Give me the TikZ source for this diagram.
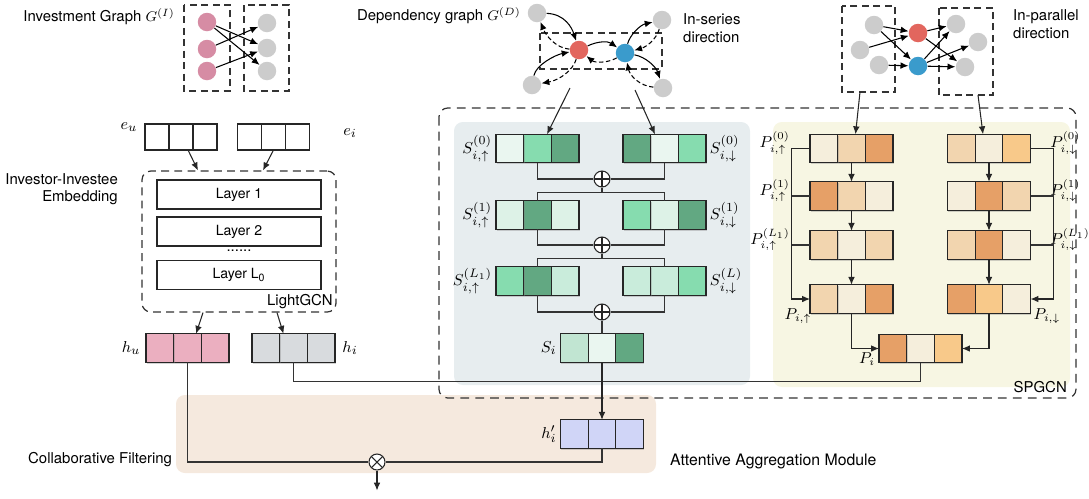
\documentclass[tikz,border=0pt]{standalone}
\usepackage[no-math]{fontspec}
\setmainfont{TeX Gyre Heros}
\usepackage{amsmath}
\usetikzlibrary{positioning, arrows.meta, shadows}

\definecolor{nodegray}{HTML}{CCCCCC}
\definecolor{nodepink}{HTML}{D68CA4}
\definecolor{nodered}{HTML}{E2665E}
\definecolor{nodeblue}{HTML}{3A9BCC}
\definecolor{panelS}{HTML}{E7EDEF}
\definecolor{panelP}{HTML}{F7F6E3}
\definecolor{panelA}{HTML}{F5E9DE}
\definecolor{gA}{HTML}{EAF6F0}
\definecolor{gB}{HTML}{DDF2E7}
\definecolor{gC}{HTML}{C9ECDB}
\definecolor{gD}{HTML}{86DCAF}
\definecolor{gE}{HTML}{62A882}
\definecolor{gF}{HTML}{C1E5D2}
\definecolor{oA}{HTML}{F5EEDC}
\definecolor{oB}{HTML}{F2D5AF}
\definecolor{oC}{HTML}{E6A067}
\definecolor{oD}{HTML}{F8C98A}
\definecolor{vpink}{HTML}{EBAFC0}
\definecolor{vgray}{HTML}{D8DBDE}
\definecolor{vlav}{HTML}{D0D5F7}

% three-cell vector: [cell style]{name}{centre}{left}{middle}{right}
\newcommand{\vect}[6][vcell]{%
  \node[#1, fill=#5] (#2) at (#3) {};
  \node[#1, fill=#4, left=0pt of #2] (#2-l) {};
  \node[#1, fill=#6, right=0pt of #2] (#2-r) {};
}

\tikzset{
  vcell/.style    = {draw=black!85, line width=0.7pt, minimum width=0.554cm, minimum height=0.57cm,
                     inner sep=0pt, outer sep=0pt,
                     drop shadow={shadow xshift=0.5pt, shadow yshift=-0.8pt, opacity=0.35}},
  ecell/.style    = {vcell, minimum width=0.48cm, minimum height=0.52cm},
  lbl/.style      = {font=\fontsize{8.5}{10}\selectfont},
  mlbl/.style     = {font=\fontsize{9.5}{11}\selectfont, inner sep=1pt},
  plbl/.style     = {font=\fontsize{9}{11}\selectfont, inner sep=0.5pt},
  gnode/.style    = {circle, fill=nodegray, minimum size=0.37cm, inner sep=0pt},
  gbox/.style     = {draw=black!80, line width=0.7pt, dash pattern=on 4pt off 2.5pt},
  garr/.style     = {-{Latex[length=4.5pt,width=3.8pt]}, line width=0.6pt},
  garrd/.style    = {garr, dash pattern=on 2.5pt off 1.5pt},
  arr/.style      = {-{Latex[length=4.5pt,width=3.8pt]}, line width=0.6pt, draw=black!85},
  conn/.style     = {line width=0.6pt, draw=black!80},
  layerbox/.style = {draw=black!85, line width=0.7pt, fill=white, minimum width=3.28cm,
                     minimum height=0.58cm, inner sep=0pt, font=\fontsize{8}{10}\selectfont},
  gcnbox/.style   = {draw=black!80, line width=0.7pt, dash pattern=on 4.5pt off 3pt,
                     rounded corners=5pt, minimum width=3.88cm, minimum height=2.82cm},
  oplus/.style    = {circle, draw=black!85, fill=white, line width=0.6pt, minimum size=0.32cm, inner sep=0pt,
                     path picture={\draw[line width=0.6pt] (path picture bounding box.north) -- (path picture bounding box.south)
                       (path picture bounding box.west) -- (path picture bounding box.east);}},
  otimes/.style   = {circle, draw=black!85, fill=white, line width=0.6pt, minimum size=0.32cm, inner sep=0pt,
                     path picture={\draw[line width=0.6pt] (path picture bounding box.north west) -- (path picture bounding box.south east)
                       (path picture bounding box.south west) -- (path picture bounding box.north east);}}
}

\begin{document}
\begin{tikzpicture}[x=0.02cm, y=-0.02cm]
\useasboundingbox (0,0) rectangle (1089,498);

% panels
\fill[panelS, rounded corners=5pt] (454,122) rectangle (750,385);
\fill[panelP, rounded corners=5pt] (773,122) rectangle (1070,387);
\fill[panelA, rounded corners=5pt] (176,395) rectangle (656,473);
\draw[draw=black!80, line width=0.7pt, dash pattern=on 5pt off 3.5pt, rounded corners=5pt] (439,108) rectangle (1076,398);
\node[lbl, anchor=east] (spgcn) at (1073,387) {SPGCN};

% investment graph
\node[lbl, anchor=east] (iglbl) at (181,17) {Investment Graph $G^{(I)}$};
\draw[gbox] (184,5) rectangle (230,91);
\draw[gbox] (244,5) rectangle (289,91);
\node[gnode, fill=nodepink] (ip1) at (207,22) {};
\node[gnode, fill=nodepink] (ip2) at (207,49) {};
\node[gnode, fill=nodepink] (ip3) at (207,71) {};
\node[gnode] (iq1) at (267,23) {};
\node[gnode] (iq2) at (267,48) {};
\node[gnode] (iq3) at (267,71) {};
\draw[garr] (ip1) -- (iq2);
\draw[garr] (ip1) -- (iq3);
\draw[garr] (ip2) -- (iq1);
\draw[garr] (ip3) -- (iq2);

% dependency graph
\node[lbl, anchor=east] (dglbl) at (527,16) {Dependency graph $G^{(D)}$};
\node[lbl, align=left, anchor=west] (series) at (677,28) {In-series\\direction};
\draw[gbox] (540,33) rectangle (662,69);
\node[gnode] (dtl) at (537,13) {};
\node[gnode] (dtr) at (662,20) {};
\node[gnode] (dbl) at (532,85) {};
\node[gnode] (dbr) at (663,88) {};
\node[gnode, fill=nodered] (dr) at (579,50) {};
\node[gnode, fill=nodeblue] (db) at (625,53) {};
\draw[garr] (dtl) .. controls (565,14) and (572,28) .. (dr);
\draw[garrd] (dr) .. controls (556,48) and (546,36) .. (dtl);
\draw[garr] (dbl) .. controls (536,65) and (555,55) .. (dr);
\draw[garrd] (dr) .. controls (573,70) and (560,80) .. (dbl);
\draw[garr] (dr) .. controls (598,41) and (608,41) .. (db);
\draw[garrd] (db) .. controls (608,63) and (595,63) .. (dr);
\draw[garr] (db) .. controls (630,35) and (640,25) .. (dtr);
\draw[garrd] (dtr) .. controls (656,40) and (646,47) .. (db);
\draw[garr] (db) .. controls (646,57) and (656,67) .. (dbr);
\draw[garrd] (dbr) .. controls (640,86) and (630,76) .. (db);

% in-parallel graph
\node[lbl, align=left, anchor=west] (parallel) at (1007,24) {In-parallel\\direction};
\draw[gbox] (842,6) rectangle (895,92);
\draw[gbox] (939,8) rectangle (993,95);
\node[gnode] (pa1) at (874,25) {};
\node[gnode] (pa2) at (860,50) {};
\node[gnode] (pa3) at (879,65) {};
\node[gnode, fill=nodered] (pr) at (918,33) {};
\node[gnode, fill=nodeblue] (pb) at (918,66) {};
\node[gnode] (pc1) at (956,24) {};
\node[gnode] (pc2) at (978,42) {};
\node[gnode] (pc3) at (965,67) {};
\foreach \a/\b in {pa1/pr, pa1/pb, pa2/pr, pa3/pb, pr/pc1, pr/pc3, pb/pc1, pb/pc2, pb/pc3}
  \draw[garr] (\a) -- (\b);

% investor-investee embedding
\node[lbl, align=right, anchor=east] (embed) at (124,189) {Investor-Investee\\Embedding};
\vect[ecell]{eu}{181,137}{white}{white}{white}
\vect[ecell]{ei}{273.5,137}{white}{white}{white}
\node[mlbl] (leu) at (129,127) {$e_u$};
\node[mlbl] (lei) at (350,133) {$e_i$};
\node[gcnbox] (gcn) at (239,241.5) {};
\node[layerbox] (lay1) at (239,194.5) {Layer 1};
\node[layerbox] (lay2) at (239,231.5) {Layer 2};
\node[lbl] (dots) at (239,251) {......};
\node[layerbox] (lay0) at (239,275) {Layer L\textsubscript{0}};
\node[lbl, anchor=south east, inner sep=2pt] (lgcn) at (gcn.south east) {LightGCN};
\draw[arr] ([xshift=0.14cm]eu.south) -- ([xshift=-0.82cm]gcn.north);
\draw[arr] (ei.south) -- ([xshift=0.48cm]gcn.north);

\vect{hu}{187.5,348}{vpink}{vpink}{vpink}
\vect{hi}{293.5,348}{vgray}{vgray}{vgray}
\node[mlbl, left=2pt of hu-l] (lhu) {$h_u$};
\node[mlbl, right=3pt of hi-r] (lhi) {$h_i$};
\draw[arr] ([xshift=-0.72cm]gcn.south) -- ([xshift=0.17cm]hu.north);
\draw[arr] ([xshift=0.76cm]gcn.south) -- ([xshift=-0.2cm]hi.north);

% in-series vectors
\vect{su0}{537.5,148.5}{gA}{gD}{gE}
\vect{sd0}{664.5,148.5}{gE}{gA}{gD}
\vect{su1}{537.5,215}{gB}{gE}{gB}
\vect{sd1}{664.5,215}{gD}{gB}{gE}
\vect{su2}{537.5,281}{gD}{gE}{gC}
\vect{sd2}{664.5,281}{gC}{gC}{gD}
\vect{si}{602,348}{gF}{gA}{gE}
\node[mlbl, left=1pt of su0-l] (lsu0) {$S^{(0)}_{i,\uparrow}$};
\node[mlbl, right=1pt of sd0-r] (lsd0) {$S^{(0)}_{i,\downarrow}$};
\node[mlbl, left=1pt of su1-l] (lsu1) {$S^{(1)}_{i,\uparrow}$};
\node[mlbl, right=1pt of sd1-r] (lsd1) {$S^{(1)}_{i,\downarrow}$};
\node[mlbl, left=1pt of su2-l] (lsu2) {$S^{(L_1)}_{i,\uparrow}$};
\node[mlbl, right=1pt of sd2-r] (lsd2) {$S^{(L)}_{i,\downarrow}$};
\node[mlbl, left=1pt of si-l] (lsi) {$S_i$};
\node[oplus] (pl1) at (602,179) {};
\node[oplus] (pl2) at (602,245) {};
\node[oplus] (pl3) at (602,312) {};
\coordinate (dgl) at (570,88);
\coordinate (dgr) at (635,90);
\draw[arr] (dgl) -- ([xshift=0.19cm]su0.north);
\draw[arr] (dgr) -- ([xshift=-0.19cm]sd0.north);
\draw[conn] (su0.south) |- (pl1.west);
\draw[conn] (sd0.south) |- (pl1.east);
\draw[conn] (pl1.south) -- ++(0,5) coordinate (j1);
\draw[conn] (su1.north) |- (j1) -| (sd1.north);
\draw[conn] (su1.south) |- (pl2.west);
\draw[conn] (sd1.south) |- (pl2.east);
\draw[conn] (pl2.south) -- ++(0,5) coordinate (j2);
\draw[conn] (su2.north) |- (j2) -| (sd2.north);
\draw[conn] (su2.south) |- (pl3.west);
\draw[conn] (sd2.south) |- (pl3.east);
\draw[conn] (pl3) -- (si);

% in-parallel vectors
\vect{pu0}{851.5,148.5}{oA}{oB}{oC}
\vect{pd0}{989,148.5}{oB}{oA}{oD}
\vect{pu1}{851.5,196}{oC}{oB}{oA}
\vect{pd1}{989,196}{oA}{oC}{oB}
\vect{pu2}{851.5,245}{oB}{oA}{oB}
\vect{pd2}{989,245}{oB}{oC}{oA}
\vect{pu3}{851.5,299}{oB}{oA}{oC}
\vect{pd3}{989,299}{oC}{oD}{oA}
\vect{pi}{920.5,348.5}{oC}{oA}{oD}
\node[plbl, left=0.38cm of pu0-l, yshift=3pt] (lpu0) {$P^{(0)}_{i,\uparrow}$};
\node[plbl, right=0.37cm of pd0-r, yshift=3pt] (lpd0) {$P^{(0)}_{i,\downarrow}$};
\node[plbl, left=0.38cm of pu1-l, yshift=3pt] (lpu1) {$P^{(1)}_{i,\uparrow}$};
\node[plbl, right=0.37cm of pd1-r, yshift=3pt] (lpd1) {$P^{(1)}_{i,\downarrow}$};
\node[plbl, left=0.38cm of pu2-l, yshift=3pt] (lpu2) {$P^{(L_1)}_{i,\uparrow}$};
\node[plbl, right=0.37cm of pd2-r, yshift=3pt] (lpd2) {$P^{(L_1)}_{i,\downarrow}$};
\node[plbl] (lpu3) at (798,316) {$P_{i,\uparrow}$};
\node[plbl] (lpd3) at (1047,316) {$P_{i,\downarrow}$};
\node[plbl] (lpi) at (867,359) {$P_i$};
\coordinate (pgl) at (860,92);
\coordinate (pgr) at (978,95);
\draw[arr] (pgl) -- ([xshift=0.08cm]pu0.north);
\draw[arr] (pgr) -- ([xshift=-0.12cm]pd0.north);
\foreach \a/\b in {pu0/pu1, pu1/pu2, pu2/pu3, pd0/pd1, pd1/pd2, pd2/pd3}
  \draw[arr] (\a) -- (\b);
\draw[arr] (pu0-l.west) -- ++(-18,0) |- (pu3-l.west);
\draw[conn] (pu1-l.west) -- ++(-18,0);
\draw[conn] (pu2-l.west) -- ++(-18,0);
\draw[arr] (pd0-r.east) -- ++(23,0) |- (pd3-r.east);
\draw[conn] (pd1-r.east) -- ++(23,0);
\draw[conn] (pd2-r.east) -- ++(23,0);
\draw[arr] (pu3.south) |- (pi-l.west);
\draw[arr] (pd3.south) |- (pi-r.east);
\draw[conn] (pi.south) -- ++(0,19) -| (hi.south);

% attentive aggregation / collaborative filtering
\vect{hp}{602,434}{vlav}{vlav}{vlav}
\node[mlbl, left=1pt of hp-l] (lhp) {$h'_i$};
\node[otimes] (ot) at (377,462) {};
\draw[arr] (si) -- (hp);
\draw[conn] (hu.south) |- (ot.west);
\draw[conn] (hp.south) |- (ot.east);
\draw[arr] (ot.south) -- ++(0,20) coordinate (out);
\node[lbl, anchor=west] (cf) at (22,460) {Collaborative Filtering};
\node[lbl, font=\fontsize{9}{11}\selectfont, anchor=west] (aam) at (664,461) {Attentive Aggregation Module};
\end{tikzpicture}
\end{document}
